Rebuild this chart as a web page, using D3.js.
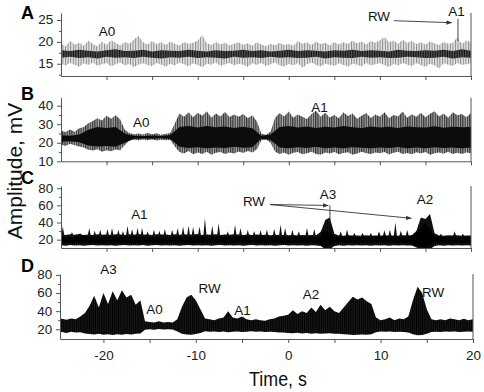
<!DOCTYPE html>
<html>
<head>
<meta charset="utf-8">
<script src="https://cdn.jsdelivr.net/npm/d3@7"></script>
<style>
  body { margin: 0; background: #fff; }
  svg { display: block; }
</style>
</head>
<body>
<script>
// SAMPLE TIMES (s)

const tFine = [
  -25, -24.5, -24, -23.5, -23, -22.5, -22, -21.5, -21, -20.5,
  -20, -19.5, -19, -18.5, -18, -17.5, -17, -16.5, -16, -15.5,
  -15, -14.5, -14, -13.5, -13, -12.5, -12, -11.5, -11, -10.5,
  -10, -9.5, -9, -8.5, -8, -7.5, -7, -6.5, -6, -5.5,
  -5, -4.5, -4, -3.5, -3, -2.5, -2, -1.5, -1, -0.5,
  0, 0.5, 1, 1.5, 2, 2.5, 3, 3.5, 4, 4.5,
  5, 5.5, 6, 6.5, 7, 7.5, 8, 8.5, 9, 9.5,
  10, 10.5, 11, 11.5, 12, 12.5, 13, 13.5, 14, 14.5,
  15, 15.5, 16, 16.5, 17, 17.5, 18, 18.5, 19, 19.5, 20
];

const tCoarse = [
  -25, -24, -23, -22, -21, -20, -19, -18, -17, -16,
  -15, -14, -13, -12, -11, -10, -9, -8, -7, -6,
  -5, -4, -3, -2, -1, 0, 1, 2, 3, 4,
  5, 6, 7, 8, 9, 10, 11, 12, 13, 14,
  15, 16, 17, 18, 19, 20
];

// PANEL A (mV) - envelope of the trace
const aHi = [
  19.6, 19.0, 20.2, 19.4, 19.8, 19.1, 20.3, 19.5, 19.0, 20.1,
  19.3, 20.4, 19.8, 19.2, 20.0, 19.6, 20.5, 21.4, 19.9, 19.4,
  20.2, 19.5, 19.9, 19.3, 20.1, 19.6, 19.2, 20.0, 19.5, 19.8,
  20.3, 21.6, 19.7, 19.3, 20.0, 19.4, 19.8, 19.2, 19.6, 19.9,
  19.3, 19.7, 19.1, 19.9, 19.4, 19.0, 19.6, 19.2, 19.8, 19.3,
  19.5, 19.1, 20.2, 19.6, 19.9, 19.3, 20.1, 19.5, 19.8, 19.2,
  20.0, 19.4, 19.9, 19.5, 20.3, 19.7, 20.1, 19.4, 20.2, 19.8,
  20.4, 21.1, 19.9, 20.3, 19.6, 20.5, 19.8, 20.2, 19.5, 19.9,
  19.4, 20.1, 19.7, 19.3, 20.0, 19.6, 19.8, 21.0, 19.5, 20.3, 19.9
];
const aLo = [
  15.0, 14.6, 15.2, 14.8, 14.3, 15.1, 14.7, 15.3, 14.5, 14.9,
  15.2, 14.4, 14.9, 15.3, 14.6, 15.0, 14.2, 14.8, 15.1, 14.7,
  14.5, 15.2, 14.8, 14.3, 15.0, 14.6, 15.3, 14.9, 14.4, 15.1,
  14.7, 14.2, 15.0, 14.8, 15.3, 14.5, 14.9, 15.2, 14.6, 15.0,
  14.8, 14.3, 15.1, 14.7, 15.2, 14.5, 14.9, 15.3, 14.6, 14.4,
  15.0, 14.6, 15.2, 14.1, 14.9, 15.3, 14.7, 14.4, 15.0, 14.8,
  14.5, 15.1, 14.7, 14.3, 15.0, 14.8, 14.4, 15.2, 14.6, 14.9,
  15.1, 14.7, 14.2, 15.0, 14.6, 15.2, 14.8, 14.5, 15.1, 14.7,
  14.3, 15.0, 14.6, 13.9, 15.1, 14.8, 14.5, 15.2, 14.7, 14.9, 15.1
];
const aCoreHi = [
  18.1, 17.9, 18.2, 18.0, 17.8, 18.1, 18.3, 17.9, 18.0, 18.2,
  17.8, 18.1, 18.0, 17.9, 18.2, 18.0, 17.8, 18.1, 17.9, 18.0,
  18.2, 17.9, 18.1, 17.8, 18.0, 18.2, 17.9, 18.1, 18.0, 17.8,
  18.1, 18.0, 18.2, 17.9, 18.1, 18.0, 17.8, 18.2, 18.0, 17.9,
  18.1, 18.0, 18.2, 17.9, 18.3, 18.0
];
const aCoreLo = [
  16.4, 16.6, 16.3, 16.5, 16.2, 16.6, 16.4, 16.5, 16.3, 16.6,
  16.4, 16.2, 16.5, 16.4, 16.6, 16.3, 16.5, 16.4, 16.2, 16.6,
  16.4, 16.5, 16.3, 16.6, 16.4, 16.5, 16.3, 16.4, 16.6, 16.2,
  16.5, 16.4, 16.3, 16.6, 16.4, 16.5, 16.3, 16.4, 16.6, 16.5,
  16.3, 16.4, 16.6, 16.2, 16.5, 16.4
];

// PANEL B
const bHi = [
  26.5, 25.8, 27.2, 26.0, 27.8, 28.5, 30.5, 31.8, 33.2, 32.0,
  34.5, 33.0, 34.8, 32.5, 27.0, 25.2, 24.6, 25.0, 24.4, 25.3,
  24.6, 25.1, 24.3, 24.9, 25.2, 30.5, 35.8, 34.0, 36.5, 33.8,
  36.2, 34.5, 37.0, 33.5, 35.8, 34.2, 36.6, 33.9, 35.2, 34.0,
  35.5, 33.2, 34.8, 31.5, 24.8, 24.3, 26.0, 33.5, 36.0, 34.2,
  36.8, 33.5, 35.2, 34.0, 32.8, 35.5, 37.2, 34.0, 36.2, 33.6,
  35.0, 33.2, 36.5, 34.4, 35.8, 33.0, 34.6, 36.0, 33.4, 35.2,
  34.0, 36.4, 33.2, 35.0, 34.2, 36.8, 33.5, 35.4, 34.0, 36.2,
  33.8, 35.6, 37.0, 34.2, 35.8, 33.5, 36.5, 34.8, 35.5, 33.8, 36.0
];
const bLo = [
  19.0, 18.2, 19.5, 18.6, 18.0, 17.5, 16.2, 15.8, 16.5, 15.2,
  16.0, 15.4, 16.3, 15.9, 18.8, 21.2, 21.6, 21.3, 21.8, 21.4,
  21.7, 21.2, 21.6, 21.3, 21.5, 18.0, 15.0, 14.2, 15.5, 13.8,
  14.8, 14.0, 15.2, 13.6, 14.6, 15.0, 13.9, 14.7, 14.2, 15.3,
  14.5, 15.6, 14.8, 16.5, 21.4, 21.7, 20.0, 15.2, 14.0, 14.8,
  13.5, 14.6, 15.0, 13.8, 14.4, 15.2, 14.0, 13.6, 14.8, 14.2,
  15.0, 13.8, 14.5, 14.9, 13.5, 14.2, 15.1, 14.4, 13.9, 14.7,
  14.3, 15.0, 13.7, 14.6, 15.2, 14.0, 14.5, 13.8, 14.9, 14.2,
  15.0, 13.6, 14.4, 14.8, 14.1, 15.2, 13.9, 14.6, 14.0, 14.8, 14.3
];
const bCoreHi = [
  24.0, 23.8, 24.5, 27.0, 28.5, 28.0, 28.5, 25.0, 23.8, 23.7,
  23.9, 23.6, 24.2, 28.5, 29.0, 28.2, 29.0, 28.4, 28.8, 28.0,
  28.6, 27.8, 23.8, 24.5, 28.5, 29.0, 28.2, 28.8, 28.0, 28.6,
  28.2, 29.0, 28.4, 28.0, 28.8, 28.2, 28.6, 28.0, 28.8, 28.4,
  28.2, 28.9, 28.1, 28.6, 28.3, 28.5
];
const bCoreLo = [
  20.5, 20.8, 20.3, 18.5, 18.0, 18.3, 17.8, 20.0, 22.2, 22.3,
  22.1, 22.4, 22.0, 17.8, 17.2, 17.6, 17.0, 17.5, 17.2, 17.8,
  17.3, 17.6, 22.2, 21.5, 17.4, 17.0, 17.6, 17.2, 17.8, 17.1,
  17.5, 17.0, 17.6, 17.3, 17.0, 17.5, 17.2, 17.7, 17.1, 17.4,
  17.0, 17.6, 17.2, 17.5, 17.1, 17.4
];

// PANEL C
const cHi = [
  26.0, 25.5, 26.2, 25.8, 26.5, 25.6, 26.0, 25.4, 26.3, 25.8,
  26.1, 25.5, 26.4, 25.9, 25.6, 26.2, 25.8, 26.5, 25.7, 26.0,
  25.6, 26.3, 25.9, 26.1, 25.5, 26.4, 25.8, 26.2, 25.7, 26.0,
  26.5, 25.6, 26.1, 25.8, 26.3, 25.5, 26.0, 25.7, 26.2, 25.9,
  25.6, 26.1, 25.4, 25.9, 25.5, 25.8, 25.3, 25.7, 25.4, 25.6,
  25.2, 25.6, 25.0, 25.4, 25.1, 25.5, 25.2, 29.0, 43.0, 46.0,
  27.0, 25.0, 24.6, 25.2, 24.8, 25.0, 24.5, 25.1, 24.7, 25.0,
  24.6, 25.2, 24.8, 25.0, 24.5, 25.1, 24.8, 25.3, 30.0, 46.0,
  44.0, 50.0, 27.5, 25.0, 24.6, 25.1, 24.8, 25.2, 24.6, 25.0, 24.8
];
const cLo = [
  13.5, 13.0, 13.8, 13.2, 13.6, 12.9, 13.4, 13.7, 13.1, 13.5,
  13.2, 13.6, 13.0, 13.4, 13.8, 13.1, 13.5, 13.2, 13.7, 13.0,
  13.4, 13.8, 13.1, 13.5, 13.2, 13.6, 13.0, 13.4, 13.7, 13.1,
  13.5, 13.2, 13.6, 13.0, 13.4, 13.8, 13.1, 13.5, 13.2, 13.6,
  13.0, 13.4, 13.7, 13.1, 13.5, 13.2, 13.6, 13.0, 13.4, 13.8,
  13.1, 13.5, 13.2, 13.6, 13.0, 13.4, 13.3, 12.5, 9.0, 8.8,
  12.5, 13.4, 13.0, 13.5, 13.2, 13.6, 13.1, 13.4, 13.0, 13.5,
  13.2, 13.6, 13.0, 13.4, 13.1, 13.5, 13.2, 13.3, 11.0, 8.8,
  8.6, 9.0, 12.5, 13.4, 13.0, 13.5, 13.2, 13.6, 13.1, 13.4, 13.2
];
const cCoreHi = [
  23.5, 23.2, 23.8, 23.4, 23.6, 23.1, 23.7, 23.3, 23.9, 23.5,
  23.2, 23.6, 23.4, 23.8, 23.1, 23.5, 23.7, 23.3, 23.6, 23.2,
  23.8, 23.4, 23.5, 23.1, 23.6, 23.3, 23.7, 23.0, 23.2, 32.0,
  23.5, 23.1, 23.4, 23.0, 23.3, 23.6, 23.2, 23.4, 23.0, 27.0,
  40.0, 23.4, 23.1, 23.5, 23.2, 23.4
];
const cCoreLo = [
  16.5, 16.8, 16.3, 16.6, 16.2, 16.7, 16.4, 16.5, 16.1, 16.6,
  16.4, 16.2, 16.7, 16.3, 16.5, 16.8, 16.2, 16.6, 16.4, 16.3,
  16.6, 16.2, 16.5, 16.7, 16.3, 16.4, 16.6, 16.2, 16.5, 11.0,
  16.4, 16.7, 16.3, 16.5, 16.2, 16.6, 16.4, 16.3, 16.7, 13.0,
  10.5, 16.5, 16.3, 16.6, 16.2, 16.4
];
// individual spikes riding on the C trace
const cSpikeT = [
  -24.8, -23.8, -22.9, -21.9, -21.3, -20.7, -19.9, -19.4, -18.7, -18.2,
  -17.7, -17.2, -16.6, -16.1, -15.5, -14.8, -14.2, -13.6, -12.8, -12.2,
  -11.6, -11.0, -10.5, -9.8, -9.2, -8.4, -7.7, -6.7, -5.9, -5.3,
  -4.5, -3.8, -3.1, -2.4, -1.6, -0.9, -0.4, 0.4, 1.1, 2.0,
  2.8, 3.5, 5.7, 6.4, 7.2, 8.1, 9.0, 9.9, 10.5, 11.1,
  11.7, 12.3, 13.0, 16.7, 18.2, 19.1
];
const cSpikeV = [
  35.4, 29.0, 27.8, 33.6, 30.5, 31.6, 32.4, 33.6, 31.6, 30.0,
  36.2, 32.4, 33.6, 33.6, 29.7, 31.6, 30.5, 32.4, 31.6, 33.6,
  35.5, 36.2, 34.8, 35.5, 45.2, 36.2, 39.3, 29.7, 37.4, 33.6,
  31.6, 30.0, 31.0, 31.6, 32.4, 37.4, 33.6, 31.6, 29.7, 33.6,
  32.4, 29.7, 29.7, 31.6, 27.7, 27.7, 27.7, 29.7, 30.9, 31.6,
  40.1, 30.5, 31.6, 27.0, 29.7, 27.0
];

// PANEL D
const dHi = [
  31.0, 31.5, 30.5, 32.0, 31.0, 34.0, 38.0, 46.0, 57.0, 44.0,
  60.0, 48.0, 62.0, 52.0, 63.0, 55.0, 58.0, 47.0, 52.0, 29.0,
  28.0, 27.5, 29.0, 27.5, 28.0, 27.5, 31.0, 45.0, 55.0, 58.0,
  52.0, 42.0, 32.0, 31.0, 30.0, 32.0, 33.0, 40.0, 33.0, 32.0,
  34.0, 31.0, 30.0, 31.0, 30.0, 29.5, 31.0, 32.0, 34.0, 35.0,
  36.0, 41.0, 37.0, 40.0, 38.0, 44.0, 39.0, 47.0, 41.0, 45.0,
  40.0, 38.0, 44.0, 50.0, 56.0, 53.0, 55.0, 51.0, 48.0, 33.0,
  30.0, 31.0, 33.0, 30.0, 32.0, 31.0, 34.0, 52.0, 67.0, 60.0,
  42.0, 31.0, 30.0, 31.0, 30.0, 32.0, 31.0, 30.0, 31.5, 30.0, 31.0
];
const dLo = [
  16.5, 17.0, 16.0, 17.2, 16.4, 16.8, 15.5, 14.8, 14.2, 15.0,
  14.0, 14.6, 13.8, 14.5, 14.0, 14.8, 14.2, 15.0, 15.5, 19.5,
  20.0, 19.6, 20.2, 19.8, 20.1, 19.7, 17.5, 15.0, 14.2, 14.0,
  14.8, 16.0, 17.8, 17.2, 17.6, 17.0, 17.5, 16.8, 17.3, 17.6,
  17.1, 17.4, 17.8, 17.2, 17.5, 16.9, 17.3, 17.0, 16.6, 16.4,
  16.0, 15.6, 16.2, 15.4, 15.8, 15.2, 15.6, 15.0, 15.4, 15.7,
  15.2, 15.0, 14.6, 14.2, 13.8, 14.0, 14.3, 13.9, 14.5, 16.8,
  17.5, 17.2, 17.6, 17.0, 17.4, 17.1, 16.5, 14.5, 13.5, 13.8,
  15.0, 17.0, 17.4, 17.1, 17.6, 17.2, 17.5, 17.0, 17.3, 17.6, 17.2
];

// TICKS
const xTicks = [-20, -15, -10, -5, 0, 5, 10, 15, 20];
const yMajorA = [15, 20, 25], yMinorA = [12.5, 17.5, 22.5];
const yMajorB = [10, 20, 30, 40], yMinorB = [15, 25, 35];
const yMajorCD = [20, 40, 60, 80], yMinorCD = [30, 50, 70];

// ANNOTATIONS (time, amplitude)
const notesA = [{ text: "A0", t: -19.95, v: 22.3 }, { text: "RW", t: 9.9, v: 25.7 }, { text: "A1", t: 18.4, v: 26.8 }];
const arrowsA = [{ t1: 11.55, v1: 24.84, t2: 17.9, v2: 24.38, head: true }, { t1: 18.57, v1: 25.3, t2: 18.57, v2: 20.2, head: false }];
const notesB = [{ text: "A0", t: -16.2, v: 30.7 }, { text: "A1", t: 3.37, v: 38.8 }];
const notesC = [{ text: "A1", t: -16.4, v: 48.8 }, { text: "RW", t: -3.82, v: 63.9 }, { text: "A3", t: 4.3, v: 72.1 }, { text: "A2", t: 14.95, v: 66.3 }];
const arrowsC = [
  { t1: -2.06, v1: 61.0, t2: 4.36, v2: 59.9, head: true },
  { t1: -2.06, v1: 61.0, t2: 13.47, v2: 44.9, head: true },
  { t1: 4.52, v1: 59.9, t2: 4.52, v2: 40.6, head: false }
];
const notesD = [
  { text: "A3", t: -19.45, v: 85.4 }, { text: "A0", t: -14.47, v: 41.8 }, { text: "RW", t: -8.52, v: 65.0 },
  { text: "A1", t: -4.95, v: 40.2 }, { text: "A2", t: 2.47, v: 57.8 }, { text: "RW", t: 15.67, v: 60.0 }
];

// DRAW

let width = 484;
let height = 392;
const font = "'Liberation Sans', Arial, sans-serif";
const axisColor = "#555";

let svg = d3.select("body").append("svg")
  .attr("width", width)
  .attr("height", height)
  .style("font-family", font);

let defs = svg.append("defs");
defs.append("marker")
  .attr("id", "head")
  .attr("viewBox", "0 0 10 10")
  .attr("refX", 10).attr("refY", 5)
  .attr("markerWidth", 6).attr("markerHeight", 6)
  .attr("orient", "auto")
  .append("path").attr("d", "M0,1L10,5L0,9Z").attr("fill", "#333");

// striped fills give the dense-trace look
function stripes(id, w, line, bg, lw) {
  let pat = defs.append("pattern")
    .attr("id", id)
    .attr("patternUnits", "userSpaceOnUse")
    .attr("width", w).attr("height", 8);
  if (bg) pat.append("rect").attr("width", w).attr("height", 8).attr("fill", bg);
  pat.append("rect").attr("width", lw).attr("height", 8).attr("fill", line);
}
stripes("texA", 2.6, "#8a8a8a", "#e4e4e4", 1);
stripes("texACore", 1.7, "#111", "#666", 1);
stripes("texB", 2.3, "#333", "#a8a8a8", 1.2);
stripes("texD", 1.9, "#000", "#242424", 1.2);

let panels = [
  { name: "A", xd: [-25, 20], xr: [61, 471], yd: [12.2, 26.6], yr: [76, 13], letterY: 19,
    hi: aHi, lo: aLo, coreHi: aCoreHi, coreLo: aCoreLo, outerFill: "url(#texA)", coreFill: "url(#texACore)",
    yMajor: yMajorA, yMinor: yMinorA, notes: notesA, arrows: arrowsA, xLabels: false },
  { name: "B", xd: [-25, 20], xr: [61, 471], yd: [10, 44.3], yr: [161.3, 97.7], letterY: 100,
    hi: bHi, lo: bLo, coreHi: bCoreHi, coreLo: bCoreLo, outerFill: "url(#texB)", coreFill: "#0c0c0c",
    yMajor: yMajorB, yMinor: yMinorB, notes: notesB, arrows: [], xLabels: false },
  { name: "C", xd: [-25, 20], xr: [61, 471], yd: [10.3, 82.6], yr: [248, 186], letterY: 184,
    hi: cHi, lo: cLo, coreHi: cCoreHi, coreLo: cCoreLo, outerFill: "url(#texD)", coreFill: "#000",
    spikeT: cSpikeT, spikeV: cSpikeV,
    yMajor: yMajorCD, yMinor: yMinorCD, notes: notesC, arrows: arrowsC, xLabels: false },
  { name: "D", xd: [-24.7, 20], xr: [60, 473], yd: [9.3, 81], yr: [339, 274], letterY: 272,
    hi: dHi, lo: dLo, outerFill: "url(#texD)",
    yMajor: yMajorCD, yMinor: yMinorCD, notes: notesD, arrows: [], xLabels: true }
];

panels.forEach(function (p, k) {
  let x_scale = d3.scaleLinear().domain(p.xd).range(p.xr);
  let y_scale = d3.scaleLinear().domain(p.yd).range(p.yr);
  let g = svg.append("g").attr("class", "panel");

  defs.append("clipPath").attr("id", "clip" + k)
    .append("rect")
    .attr("x", p.xr[0]).attr("y", p.yr[1])
    .attr("width", p.xr[1] - p.xr[0])
    .attr("height", p.yr[0] - p.yr[1] + 1);

  let plot = g.append("g").attr("clip-path", "url(#clip" + k + ")");

  // outer envelope of the trace
  let outer = d3.area()
    .x((d, i) => x_scale(tFine[i]))
    .y0((d, i) => y_scale(p.lo[i]))
    .y1(d => y_scale(d));
  plot.append("path").attr("d", outer(p.hi)).attr("fill", p.outerFill);

  // dense core of the trace
  if (p.coreHi) {
    let core = d3.area()
      .x((d, i) => x_scale(tCoarse[i]))
      .y0((d, i) => y_scale(p.coreLo[i]))
      .y1(d => y_scale(d));
    plot.append("path").attr("d", core(p.coreHi)).attr("fill", p.coreFill);
  }

  // thin spikes
  if (p.spikeT) {
    plot.selectAll("path.spike")
      .data(p.spikeT)
      .join("path")
      .attr("class", "spike")
      .attr("d", (d, i) => {
        let xs = x_scale(d), y0 = y_scale(24), y1 = y_scale(p.spikeV[i]);
        return "M" + (xs - 1.6) + "," + y0 + "L" + xs + "," + y1 + "L" + (xs + 1.6) + "," + y0 + "Z";
      })
      .attr("fill", "#111");
  }

  // axes
  let x_axis = d3.axisBottom(x_scale)
    .tickValues(xTicks)
    .tickSize(4).tickSizeOuter(0).tickPadding(8)
    .tickFormat(d => (p.xLabels && d % 10 === 0) ? String(d) : "");
  g.append("g")
    .attr("class", "x axis")
    .attr("transform", "translate(0," + p.yr[0] + ")")
    .call(x_axis);

  let y_axis = d3.axisLeft(y_scale)
    .tickValues(p.yMajor)
    .tickSize(4).tickSizeOuter(0).tickPadding(3)
    .tickFormat(d => String(d));
  g.append("g")
    .attr("class", "y axis")
    .attr("transform", "translate(" + p.xr[0] + ",0)")
    .call(y_axis);

  let y_minor = d3.axisLeft(y_scale).tickValues(p.yMinor).tickSize(2).tickFormat("");
  g.append("g")
    .attr("class", "y minor")
    .attr("transform", "translate(" + p.xr[0] + ",0)")
    .call(y_minor)
    .call(s => s.select(".domain").remove());

  g.append("line")
    .attr("x1", p.xr[1]).attr("x2", p.xr[1])
    .attr("y1", p.yr[1]).attr("y2", p.yr[0])
    .attr("stroke", axisColor);

  g.selectAll(".axis path, .axis line, .minor line").attr("stroke", axisColor);
  g.selectAll(".axis text")
    .attr("fill", "#222")
    .attr("font-size", 12)
    .attr("font-family", font)
    .attr("transform", "scale(1.12,1)");

  // annotation arrows and pointers
  g.selectAll("line.note")
    .data(p.arrows)
    .join("line")
    .attr("class", "note")
    .attr("x1", d => x_scale(d.t1)).attr("y1", d => y_scale(d.v1))
    .attr("x2", d => x_scale(d.t2)).attr("y2", d => y_scale(d.v2))
    .attr("stroke", "#333").attr("stroke-width", 0.9)
    .attr("marker-end", d => d.head ? "url(#head)" : null);

  g.selectAll("text.note")
    .data(p.notes)
    .join("text")
    .attr("class", "note")
    .attr("transform", d => "translate(" + x_scale(d.t) + "," + y_scale(d.v) + ") scale(1.12,1)")
    .attr("text-anchor", "middle")
    .attr("dy", "0.36em")
    .attr("font-size", 12)
    .attr("fill", "#111")
    .text(d => d.text);

  // panel letter
  g.append("text")
    .attr("x", 21).attr("y", p.letterY)
    .attr("font-size", 18)
    .attr("font-weight", "bold")
    .attr("fill", "#000")
    .text(p.name);
});

// axis titles
svg.append("text")
  .attr("transform", "translate(22,171) rotate(-90)")
  .attr("text-anchor", "middle")
  .attr("font-size", 21)
  .attr("fill", "#111")
  .text("Amplitude, mV");

svg.append("text")
  .attr("transform", "translate(278,386) scale(0.85,1)")
  .attr("text-anchor", "middle")
  .attr("font-size", 21)
  .attr("fill", "#111")
  .text("Time, s");
</script>
</body>
</html>
